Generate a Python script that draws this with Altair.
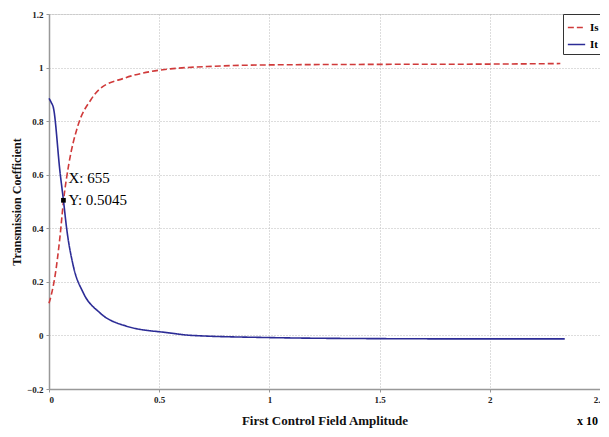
import altair as alt
import pandas as pd

# Data (x in units of 1e4)
is_x = [0, 0.01, 0.027, 0.05, 0.0655, 0.09, 0.13, 0.19, 0.23, 0.34, 0.46, 0.55, 0.75, 1.0, 1.5, 2.0, 2.32]
is_y = [0.12, 0.15, 0.22, 0.37, 0.50, 0.64, 0.78, 0.88, 0.92, 0.96, 0.985, 0.995, 1.005, 1.01, 1.012, 1.013, 1.015]

it_x = [0, 0.01, 0.02, 0.05, 0.0655, 0.08, 0.11, 0.155, 0.23, 0.35, 0.54, 0.65, 1.0, 1.5, 2.0, 2.34]
it_y = [0.885, 0.87, 0.85, 0.61, 0.5045, 0.40, 0.26, 0.16, 0.085, 0.035, 0.01, 0.0, -0.008, -0.012, -0.013, -0.013]

marker_x = [0.0655]
marker_y = [0.5045]
marker_lines = ["X: 655", "Y: 0.5045"]

series_names = ["Is", "It"]

df = pd.concat([
    pd.DataFrame({"x": is_x, "y": is_y, "s": series_names[0]}),
    pd.DataFrame({"x": it_x, "y": it_y, "s": series_names[1]}),
])

FONT = "Liberation Serif"
W, H = 551, 375

xs = alt.Scale(domain=[0, 2.5], nice=False)
ys = alt.Scale(domain=[-0.2, 1.2], nice=False)

axis_style = dict(labelFont=FONT, labelFontWeight="bold", labelFontSize=9, labelColor="#222",
                  titleFont=FONT, titleFontWeight="bold", titleColor="#111",
                  grid=True, gridColor="#bbb", gridDash=[1, 2], gridWidth=1,
                  domainColor="#999", domainWidth=1.5, tickColor="#999", tickSize=3, labelPadding=3)

lines = alt.Chart(df).mark_line(strokeWidth=1.6, interpolate="monotone").encode(
    x=alt.X("x:Q", scale=xs, title="First Control Field Amplitude",
            axis=alt.Axis(values=[0, 0.5, 1, 1.5, 2, 2.5],
                          labelExpr="datum.value == 2.5 ? '2.' : format(datum.value, '~g')",
                          titlePadding=10, titleFontSize=13, **axis_style)),
    y=alt.Y("y:Q", scale=ys, title="Transmission Coefficient",
            axis=alt.Axis(values=[-0.2, 0, 0.2, 0.4, 0.6, 0.8, 1, 1.2],
                          labelExpr="format(datum.value, '~g')", titlePadding=3,
                          titleFontSize=12, **axis_style)),
    color=alt.Color("s:N", scale=alt.Scale(domain=series_names, range=["#d03a3a", "#2c2c96"]),
                    legend=alt.Legend(title=None, orient="none", legendX=514, legendY=0,
                                      strokeColor="#333", fillColor="white", padding=4,
                                      labelFont=FONT, labelFontWeight="bold", labelFontSize=11,
                                      symbolType="stroke", symbolSize=300, symbolStrokeWidth=1.6,
                                      rowPadding=2)),
    strokeDash=alt.StrokeDash("s:N", scale=alt.Scale(domain=series_names, range=[[6, 3], [1, 0]]),
                              legend=None),
)

mdf = pd.DataFrame({"x": marker_x, "y": marker_y})
marker = alt.Chart(mdf).mark_square(size=22, color="black", opacity=1).encode(
    x=alt.X("x:Q", scale=xs), y=alt.Y("y:Q", scale=ys))

tdf = pd.DataFrame({"x": marker_x * 2, "y": [marker_y[0] + 0.085, marker_y[0]], "t": marker_lines})
label = alt.Chart(tdf).mark_text(align="left", baseline="middle", dx=5, font=FONT,
                                 fontSize=15, color="black").encode(
    x=alt.X("x:Q", scale=xs), y=alt.Y("y:Q", scale=ys), text="t:N")

exp = alt.Chart(pd.DataFrame({"t": ["x 10"]})).mark_text(
    align="left", baseline="middle", font=FONT, fontSize=12, fontWeight="bold", color="black").encode(
    x=alt.value(528), y=alt.value(H + 32), text="t:N")

chart = alt.layer(lines, marker, label, exp).properties(
    width=W, height=H,
    padding={"left": 41, "top": 6, "right": 0, "bottom": 40},
    autosize=alt.AutoSizeParams(type="none"),
).configure_view(stroke="#999", strokeWidth=1.2).configure(background="white", font=FONT)

chart.save("out.html", embed_options={"renderer": "svg", "actions": False})
